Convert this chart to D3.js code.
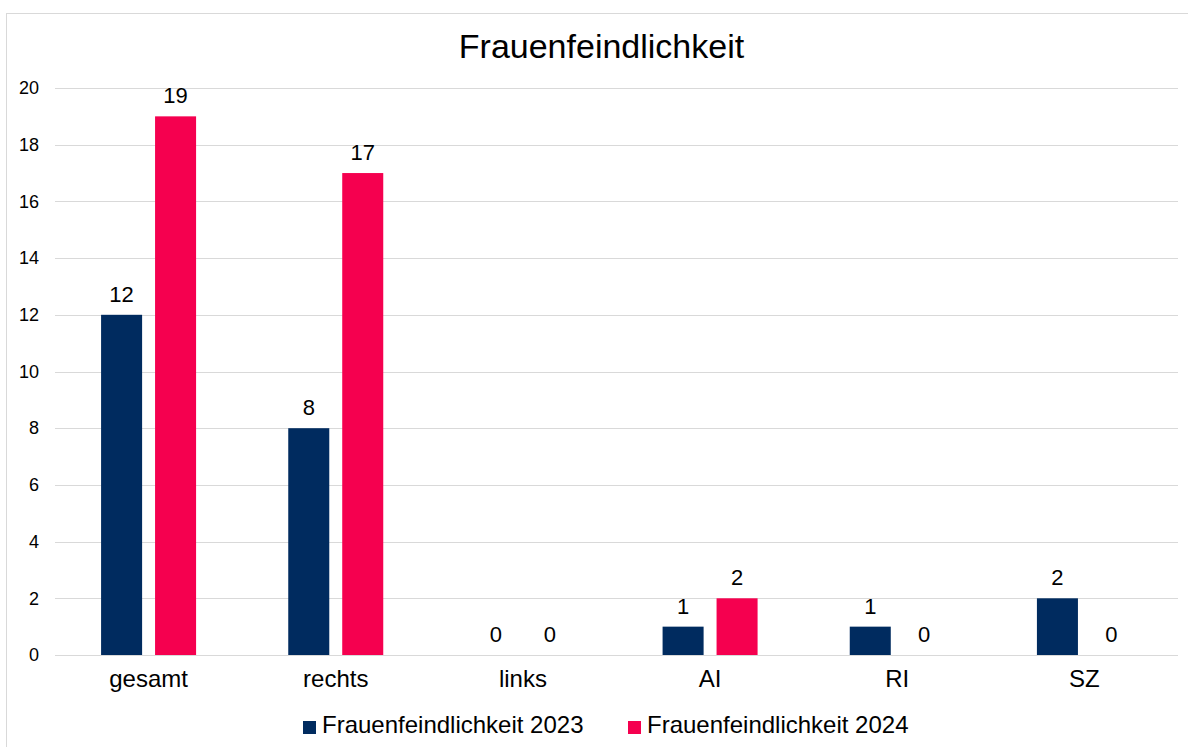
<!DOCTYPE html>
<html><head><meta charset="utf-8">
<script src="https://cdn.jsdelivr.net/npm/d3@7"></script>
<style>body{margin:0;background:#fff}svg{display:block;font-family:"Liberation Sans",Arial,sans-serif}</style>
</head><body><svg id="c" width="1188" height="747"></svg>
<script>
const title = "Frauenfeindlichkeit";
const categories = ["gesamt","rechts","links","AI","RI","SZ"];
const seriesNames = ["Frauenfeindlichkeit 2023","Frauenfeindlichkeit 2024"];
const values2023 = [12,8,0,1,1,2];
const values2024 = [19,17,0,2,0,0];
const yTicks = [0,2,4,6,8,10,12,14,16,18,20];
const colors = ["#002b5f","#f5004f"];

const svg = d3.select("#c");
svg.append("rect").attr("x",6.5).attr("y",13.5).attr("width",1200).attr("height",760)
  .attr("fill","#fff").attr("stroke","#d9d9d9").attr("stroke-width",1);

const m = {l:55,r:1178,t:88,b:655};
const x = d3.scaleBand().domain(categories).range([m.l,m.r]);
const y = d3.scaleLinear().domain([0,20]).range([m.b,m.t]);
const x1 = d3.scaleBand().domain([0,1]).range([0,95]).paddingInner(0.24);

svg.append("g").selectAll("line").data(yTicks).join("line")
  .attr("x1",m.l).attr("x2",m.r).attr("y1",d=>Math.round(y(d))+0.5).attr("y2",d=>Math.round(y(d))+0.5)
  .attr("stroke","#d9d9d9").attr("stroke-width",1);

const yAxis = svg.append("g").attr("transform",`translate(${m.l},0)`)
  .call(d3.axisLeft(y).tickValues(yTicks).tickSize(0).tickPadding(16));
yAxis.select(".domain").remove();
yAxis.selectAll("text").attr("font-size",18).attr("fill","#000").attr("font-family","Liberation Sans, Arial, sans-serif");

const xAxis = svg.append("g").attr("transform",`translate(0,${m.b})`)
  .call(d3.axisBottom(x).tickSize(0).tickPadding(15));
xAxis.select(".domain").remove();
xAxis.selectAll("text").attr("font-size",24).attr("fill","#000").attr("font-family","Liberation Sans, Arial, sans-serif");

const data = categories.map((c,i)=>({c, v:[values2023[i],values2024[i]]}));
const g = svg.append("g").selectAll("g").data(data).join("g")
  .attr("transform",d=>`translate(${x(d.c)+x.bandwidth()/2-47.5},0)`);
g.selectAll("rect").data(d=>d.v.map((v,k)=>({v,k}))).join("rect")
  .attr("x",d=>x1(d.k)).attr("width",x1.bandwidth())
  .attr("y",d=>y(d.v)).attr("height",d=>y(0)-y(d.v))
  .attr("fill",d=>colors[d.k]);
g.selectAll("text").data(d=>d.v.map((v,k)=>({v,k}))).join("text")
  .attr("x",d=>x1(d.k)+x1.bandwidth()/2).attr("y",d=>y(d.v)-13)
  .attr("text-anchor","middle").attr("font-size",22).attr("fill","#000").text(d=>d.v);

svg.append("text").attr("x",601.5).attr("y",58).attr("text-anchor","middle")
  .attr("font-size",34).attr("fill","#000").text(title);

const leg = svg.append("g");
const lx = [303,628];
seriesNames.forEach((s,k)=>{
  leg.append("rect").attr("x",lx[k]).attr("y",721).attr("width",13).attr("height",13).attr("fill",colors[k]);
  leg.append("text").attr("x",lx[k]+19).attr("y",733).attr("font-size",24).attr("fill","#000").text(s);
});
</script></body></html>
